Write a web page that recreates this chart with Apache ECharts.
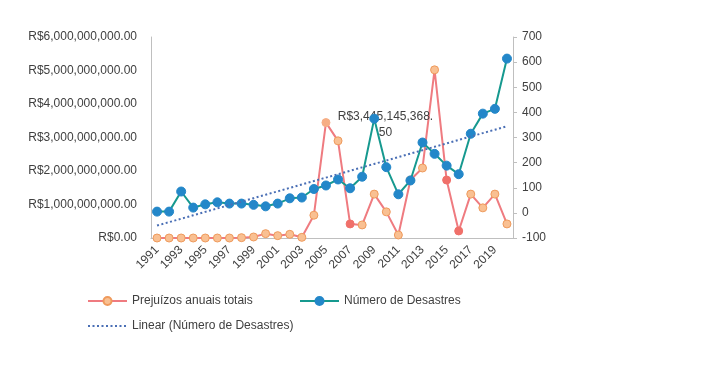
<!DOCTYPE html>
<html>
<head>
<meta charset="utf-8">
<script src="https://cdn.jsdelivr.net/npm/echarts@6/dist/echarts.min.js"></script>
<style>
  html, body { margin: 0; padding: 0; background: #ffffff; }
  #chart { width: 720px; height: 379px; }
</style>
</head>
<body>
<div id="chart"></div>
<script>
// ---- data ----
const years = ['1991','1992','1993','1994','1995','1996','1997','1998','1999','2000',
               '2001','2002','2003','2004','2005','2006','2007','2008','2009','2010',
               '2011','2012','2013','2014','2015','2016','2017','2018','2019','2020'];

// Prejuízos anuais totais (R$)
const losses = [0, 0, 0, 0, 0, 0, 0, 0.01e9, 0.03e9, 0.13e9,
                0.07e9, 0.11e9, 0.02e9, 0.68e9, 3445145368.50, 2.90e9, 0.42e9, 0.39e9, 1.31e9, 0.78e9,
                0.09e9, 1.73e9, 2.09e9, 5.02e9, 1.73e9, 0.21e9, 1.31e9, 0.90e9, 1.31e9, 0.42e9];

// Número de Desastres
const disasters = [5, 5, 85, 21, 34, 42, 37, 37, 32, 26,
                   37, 58, 61, 95, 109, 133, 98, 144, 375, 182,
                   74, 129, 280, 235, 188, 154, 315, 395, 414, 614];

const lossTicks = { min: 0, max: 6e9, interval: 1e9 };
const countTicks = { min: -100, max: 700, interval: 100 };

const labelledYear = '2005';
const redYears = ['2007', '2015', '2016'];

// ---- linear trend of disasters (least squares, like Excel) ----
const n = disasters.length;
const mx = (n - 1) / 2;
const my = disasters.reduce((a, b) => a + b, 0) / n;
let sxy = 0, sxx = 0;
disasters.forEach((v, i) => { sxy += (i - mx) * (v - my); sxx += (i - mx) * (i - mx); });
const slope = sxy / sxx;
const trend = disasters.map((v, i) => +(my + slope * (i - mx)).toFixed(2));

const FONT = 'Liberation Sans';
const TXT = '#404040';

function brl(v) {
  return 'R$' + Number(v).toLocaleString('en-US', { minimumFractionDigits: 2, maximumFractionDigits: 2 });
}

const lossData = losses.map((v, i) => {
  const y = years[i];
  const item = { value: v };
  if (redYears.includes(y)) {
    item.itemStyle = { color: '#F0706A', borderColor: '#F0706A' };
  }
  if (y === labelledYear) {
    item.itemStyle = { color: '#F6AE85', borderColor: '#F6AE85' };
    item.label = {
      show: true,
      formatter: function (p) {
        const s = brl(p.value);
        return s.slice(0, s.length - 2) + '\n' + s.slice(s.length - 2);
      },
      position: [64, -9],
      align: 'center',
      verticalAlign: 'top',
      color: TXT,
      fontFamily: FONT,
      fontSize: 12,
      lineHeight: 16
    };
  }
  return item;
});

const legendText = { color: TXT, fontFamily: FONT, fontSize: 12 };

const chart = echarts.init(document.getElementById('chart'), null, { renderer: 'canvas' });

chart.setOption({
  animation: false,
  backgroundColor: '#ffffff',
  textStyle: { fontFamily: FONT },
  grid: { left: 151, right: 207, top: 37, bottom: 141, containLabel: false },
  legend: [
    {
      data: ['Prejuízos anuais totais'],
      left: 82, top: 290,
      itemWidth: 39, itemHeight: 10, itemTextGap: 5,
      textStyle: legendText,
      selectedMode: false
    },
    {
      data: ['Número de Desastres'],
      left: 294, top: 290,
      itemWidth: 39, itemHeight: 10, itemTextGap: 5,
      textStyle: legendText,
      selectedMode: false
    },
    {
      data: ['Linear (Número de Desastres)'],
      left: 82, top: 315,
      itemWidth: 39, itemHeight: 10, itemTextGap: 5,
      itemStyle: { color: 'rgba(0,0,0,0)', borderColor: 'rgba(0,0,0,0)', borderWidth: 0 },
      textStyle: legendText,
      selectedMode: false
    }
  ],
  xAxis: {
    type: 'category',
    data: years,
    boundaryGap: true,
    axisLine: { show: true, lineStyle: { color: '#BFBFBF', width: 1 } },
    axisTick: { show: false },
    axisLabel: {
      interval: 1,
      rotate: 45,
      margin: 10,
      color: TXT,
      fontFamily: FONT,
      fontSize: 12
    },
    splitLine: { show: false }
  },
  yAxis: [
    {
      type: 'value',
      position: 'left',
      min: lossTicks.min, max: lossTicks.max, interval: lossTicks.interval,
      axisLine: { show: true, lineStyle: { color: '#BFBFBF', width: 1 } },
      axisTick: { show: false },
      splitLine: { show: false },
      axisLabel: {
        margin: 14,
        color: TXT,
        fontFamily: FONT,
        fontSize: 12,
        formatter: brl
      }
    },
    {
      type: 'value',
      position: 'right',
      min: countTicks.min, max: countTicks.max, interval: countTicks.interval,
      axisLine: { show: true, lineStyle: { color: '#BFBFBF', width: 1 } },
      axisTick: { show: true, length: 4, lineStyle: { color: '#BFBFBF' } },
      splitLine: { show: false },
      axisLabel: {
        margin: 9,
        color: TXT,
        fontFamily: FONT,
        fontSize: 12
      }
    }
  ],
  series: [
    {
      name: 'Prejuízos anuais totais',
      type: 'line',
      yAxisIndex: 0,
      z: 2,
      data: lossData,
      symbol: 'circle',
      symbolSize: 8,
      showAllSymbol: true,
      lineStyle: { color: '#EF7B80', width: 2 },
      itemStyle: { color: '#F9C092', borderColor: '#EF9A5C', borderWidth: 1 }
    },
    {
      name: 'Número de Desastres',
      type: 'line',
      yAxisIndex: 1,
      z: 3,
      data: disasters,
      symbol: 'circle',
      symbolSize: 9,
      showAllSymbol: true,
      lineStyle: { color: '#16998F', width: 2 },
      itemStyle: { color: '#2387C9', borderColor: '#2387C9', borderWidth: 1 }
    },
    {
      name: 'Linear (Número de Desastres)',
      type: 'line',
      yAxisIndex: 1,
      z: 4,
      data: trend,
      symbol: 'none',
      showSymbol: false,
      lineStyle: { color: '#4A6FB5', width: 2, type: [2, 2.5] },
      itemStyle: { color: '#4A6FB5' }
    }
  ]
});
</script>
</body>
</html>
